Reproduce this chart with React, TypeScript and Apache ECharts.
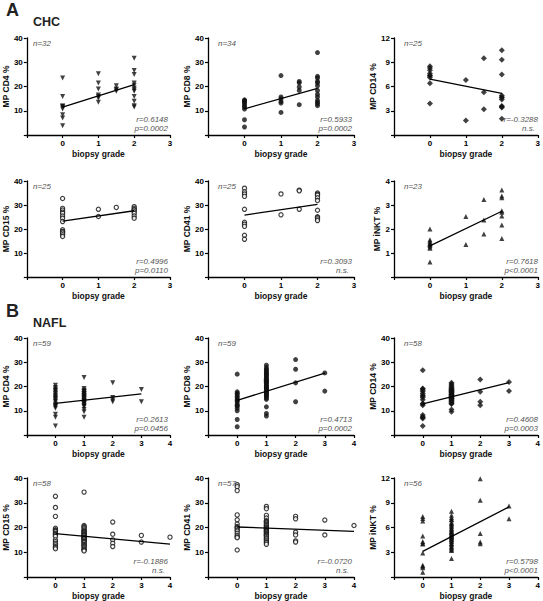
import React, { useEffect, useRef } from "react";
import * as echarts from "echarts";

// ---------- data (biopsy grade, value) ----------
const chcCD4: [number, number][] = [
  [0, 23.5], [0, 15.9], [0, 12.0], [0, 11.9], [0, 11.4], [0, 10.7], [0, 8.4], [0, 7.0], [0, 3.8],
  [1, 25.3], [1, 21.4], [1, 19.0], [1, 16.5], [1, 15.9], [1, 15.2], [1, 13.5],
  [1.5, 20.3], [1.5, 19.0], [1.5, 18.7], [1.5, 18.0],
  [2, 31.7], [2, 26.6], [2, 24.9], [2, 21.4], [2, 20.5], [2, 19.4], [2, 18.7], [2, 18.0], [2, 15.9], [2, 13.9], [2, 12.1], [2, 11.5],
];
const chcCD8: [number, number][] = [
  [0, 14.5], [0, 14.2], [0, 13.9], [0, 13.5], [0, 12.9], [0, 12.1], [0, 11.5], [0, 10.7], [0, 6.3], [0, 3.3],
  [1, 24.5], [1, 15.7], [1, 14.9], [1, 13.8], [1, 13.2], [1, 9.3],
  [1.5, 22.1], [1.5, 21.5], [1.5, 19.8], [1.5, 18.4], [1.5, 12.5],
  [2, 34.0], [2, 24.2], [2, 23.5], [2, 22.1], [2, 21.5], [2, 20.3], [2, 18.4], [2, 16.8], [2, 15.7], [2, 14.3], [2, 13.5], [2, 12.9], [2, 12.1],
];
const chcCD14: [number, number][] = [
  [0, 8.5], [0, 8.3], [0, 8.0], [0, 7.6], [0, 7.4], [0, 7.3], [0, 7.1], [0, 6.4], [0, 3.9],
  [1, 6.8], [1, 1.8],
  [1.5, 9.5], [1.5, 5.3], [1.5, 3.2],
  [2, 10.5], [2, 9.3], [2, 7.5], [2, 4.9], [2, 4.7], [2, 4.6], [2, 4.4], [2, 3.6], [2, 3.5], [2, 3.4], [2, 2.0],
];
const chcCD15: [number, number][] = [
  [0, 32.7], [0, 28.6], [0, 27.9], [0, 27.0], [0, 26.5], [0, 25.4], [0, 24.5], [0, 23.1], [0, 19.7], [0, 19.0], [0, 18.8], [0, 18.3], [0, 17.6], [0, 16.9],
  [1, 28.2], [1, 25.2],
  [1.5, 29.0],
  [2, 29.3], [2, 28.6], [2, 28.0], [2, 27.9], [2, 27.2], [2, 26.5], [2, 25.4], [2, 24.5],
];
const chcCD41: [number, number][] = [
  [0, 37.0], [0, 35.5], [0, 34.6], [0, 33.6], [0, 28.2], [0, 22.8], [0, 22.0], [0, 21.1], [0, 17.4], [0, 15.7],
  [1, 34.6], [1, 25.9],
  [1.5, 36.2], [1.5, 35.9], [1.5, 28.2],
  [2, 35.0], [2, 34.5], [2, 34.1], [2, 33.0], [2, 31.9], [2, 27.8], [2, 25.1], [2, 24.8], [2, 24.2], [2, 23.5],
];
const chcINKT: [number, number][] = [
  [0, 2.0], [0, 1.55], [0, 1.49], [0, 1.42], [0, 1.39], [0, 1.35], [0, 1.31], [0, 1.25], [0, 1.2], [0, 0.62],
  [1, 2.52], [1, 1.35],
  [1.5, 3.23], [1.5, 2.38], [1.5, 1.79],
  [2, 3.62], [2, 3.37], [2, 3.3], [2, 2.76], [2, 2.7], [2, 2.54], [2, 2.17], [2, 1.6],
];
const naflCD4: [number, number][] = [
  [0, 20.5], [0, 19.6], [0, 19.0], [0, 18.5], [0, 18.0], [0, 17.4], [0, 17.0], [0, 16.4], [0, 16.0], [0, 15.5], [0, 15.0], [0, 14.7], [0, 14.0], [0, 13.7], [0, 12.8], [0, 12.3], [0, 12.0], [0, 11.6], [0, 11.0], [0, 8.6], [0, 7.3], [0, 3.7],
  [1, 23.7], [1, 19.2], [1, 18.5], [1, 18.0], [1, 17.8], [1, 17.6], [1, 17.1], [1, 17.0], [1, 16.8], [1, 16.4], [1, 16.2], [1, 16.0], [1, 15.8], [1, 15.6], [1, 15.4], [1, 15.1], [1, 14.8], [1, 14.4], [1, 14.2], [1, 14.0], [1, 13.7], [1, 13.4], [1, 13.3], [1, 13.0], [1, 12.8], [1, 12.3], [1, 12.0], [1, 11.6], [1, 10.5], [1, 9.6], [1, 7.3],
  [2, 21.5], [2, 15.5], [2, 14.4], [2, 13.7],
  [3, 18.8], [3, 13.7],
];
const naflCD8: [number, number][] = [
  [0, 25.1], [0, 17.8], [0, 17.2], [0, 16.8], [0, 16.0], [0, 15.5], [0, 14.7], [0, 14.2], [0, 13.7], [0, 12.7], [0, 12.2], [0, 11.9], [0, 11.0], [0, 10.0], [0, 6.4], [0, 3.4],
  [1, 28.8], [1, 27.8], [1, 27.0], [1, 26.7], [1, 26.0], [1, 25.6], [1, 25.3], [1, 24.7], [1, 24.4], [1, 24.0], [1, 23.3], [1, 23.0], [1, 22.6], [1, 22.2], [1, 21.9], [1, 21.5], [1, 21.2], [1, 20.5], [1, 20.2], [1, 19.9], [1, 19.5], [1, 19.2], [1, 18.8], [1, 18.5], [1, 18.2], [1, 17.8], [1, 17.5], [1, 17.1], [1, 16.8], [1, 16.4], [1, 16.1], [1, 15.8], [1, 15.2], [1, 14.7], [1, 11.6], [1, 8.9], [1, 7.8],
  [2, 31.1], [2, 27.1], [2, 21.5], [2, 13.7],
  [3, 25.6], [3, 18.1],
];
const naflCD14: [number, number][] = [
  [0, 26.7], [0, 19.2], [0, 19.0], [0, 18.5], [0, 17.8], [0, 17.0], [0, 16.4], [0, 16.0], [0, 15.5], [0, 14.5], [0, 13.0], [0, 12.8], [0, 12.3], [0, 8.2], [0, 7.5], [0, 7.2], [0, 6.8], [0, 3.7],
  [1, 21.5], [1, 21.0], [1, 20.5], [1, 20.0], [1, 19.6], [1, 19.2], [1, 19.0], [1, 18.8], [1, 18.5], [1, 18.2], [1, 18.0], [1, 17.8], [1, 17.6], [1, 17.4], [1, 17.0], [1, 16.8], [1, 16.6], [1, 16.5], [1, 16.2], [1, 16.0], [1, 15.8], [1, 15.5], [1, 15.2], [1, 15.0], [1, 14.9], [1, 14.7], [1, 14.3], [1, 14.0], [1, 13.7], [1, 13.4], [1, 13.0], [1, 12.8], [1, 10.5], [1, 9.6],
  [2, 22.9], [2, 17.8], [2, 13.7], [2, 12.3],
  [3, 21.9], [3, 18.1],
];
const naflCD15: [number, number][] = [
  [0, 32.6], [0, 28.1], [0, 24.5], [0, 19.7], [0, 19.1], [0, 18.8], [0, 18.4], [0, 17.7], [0, 17.3], [0, 17.0], [0, 16.4], [0, 15.0], [0, 14.3], [0, 13.6], [0, 13.0], [0, 12.3], [0, 11.9], [0, 11.4],
  [1, 34.3], [1, 20.8], [1, 20.4], [1, 20.0], [1, 19.5], [1, 19.0], [1, 18.6], [1, 18.3], [1, 18.1], [1, 17.7], [1, 17.3], [1, 17.0], [1, 16.8], [1, 16.5], [1, 16.0], [1, 15.9], [1, 15.6], [1, 15.4], [1, 15.0], [1, 14.6], [1, 14.4], [1, 14.1], [1, 13.8], [1, 13.2], [1, 13.0], [1, 12.7], [1, 12.3], [1, 11.9], [1, 11.4], [1, 11.0], [1, 10.8], [1, 10.5],
  [2, 22.2], [2, 17.3], [2, 15.0], [2, 13.6], [2, 12.3],
  [3, 16.8], [3, 14.1],
  [4, 16.1],
];
const naflCD41: [number, number][] = [
  [0, 37.3], [0, 36.5], [0, 34.9], [0, 25.1], [0, 23.1], [0, 21.4], [0, 20.4], [0, 20.0], [0, 19.7], [0, 19.0], [0, 18.6], [0, 17.7], [0, 16.8], [0, 16.2], [0, 15.9], [0, 10.9],
  [1, 28.5], [1, 27.6], [1, 24.9], [1, 23.8], [1, 22.7], [1, 22.5], [1, 22.2], [1, 21.8], [1, 21.4], [1, 21.0], [1, 20.8], [1, 20.3], [1, 20.0], [1, 19.8], [1, 19.5], [1, 19.2], [1, 18.9], [1, 18.6], [1, 18.3], [1, 18.1], [1, 17.6], [1, 17.3], [1, 17.0], [1, 16.8], [1, 16.4], [1, 15.9], [1, 15.5], [1, 15.0], [1, 14.6], [1, 14.1], [1, 13.8], [1, 13.2],
  [2, 24.5], [2, 23.5], [2, 18.1], [2, 17.0], [2, 14.6], [2, 14.1],
  [3, 23.0], [3, 17.0],
  [4, 20.8],
];
const naflINKT: [number, number][] = [
  [0, 7.34], [0, 7.1], [0, 6.8], [0, 4.98], [0, 4.3], [0, 4.1], [0, 4.0], [0, 2.9], [0, 1.41], [0, 1.3], [0, 1.12], [0, 0.58],
  [1, 7.97], [1, 7.5], [1, 7.22], [1, 7.0], [1, 6.93], [1, 6.64], [1, 6.5], [1, 6.39], [1, 6.2], [1, 6.1], [1, 5.9], [1, 5.8], [1, 5.7], [1, 5.56], [1, 5.5], [1, 5.4], [1, 5.3], [1, 5.15], [1, 5.1], [1, 5.0], [1, 4.98], [1, 4.9], [1, 4.8], [1, 4.73], [1, 4.6], [1, 4.56], [1, 4.4], [1, 4.3], [1, 4.1], [1, 4.02], [1, 3.9], [1, 3.73], [1, 3.6], [1, 3.49], [1, 3.3], [1, 3.2], [1, 2.24],
  [2, 11.9], [2, 9.3], [2, 5.27], [2, 4.23], [2, 4.02],
  [3, 8.6], [3, 7.05],
];

// regression line end points
const chcCD4Fit: [number, number][] = [[0, 11.5], [2, 20.8]];
const chcCD8Fit: [number, number][] = [[0, 10.8], [2, 19.2]];
const chcCD14Fit: [number, number][] = [[0, 6.9], [2, 5.15]];
const chcCD15Fit: [number, number][] = [[0, 23.3], [2, 27.6]];
const chcCD41Fit: [number, number][] = [[0, 25.8], [2, 30.3]];
const chcINKTFit: [number, number][] = [[0, 1.3], [2, 2.74]];
const naflCD4Fit: [number, number][] = [[0, 13.0], [3, 17.0]];
const naflCD8Fit: [number, number][] = [[0, 14.3], [3, 25.5]];
const naflCD14Fit: [number, number][] = [[0, 12.8], [3, 21.6]];
const naflCD15Fit: [number, number][] = [[0, 17.5], [4, 13.3]];
const naflCD41Fit: [number, number][] = [[0, 20.2], [4, 18.4]];
const naflINKTFit: [number, number][] = [[0, 3.1], [3, 8.5]];

const yTitles = ["MP CD4 %", "MP CD8 %", "MP CD14 %", "MP CD15 %", "MP CD41 %", "MP iNKT %"];
const chcN = ["n=32", "n=34", "n=25", "n=25", "n=25", "n=23"];
const naflN = ["n=59", "n=59", "n=58", "n=58", "n=57", "n=56"];
const chcR = ["r=0.6148", "r=0.5933", "r=-0.3288", "r=0.4996", "r=0.3093", "r=0.7618"];
const chcP = ["p=0.0002", "p=0.0002", "n.s.", "p=0.0110", "n.s.", "p<0.0001"];
const naflR = ["r=0.2613", "r=0.4713", "r=0.4608", "r=-0.1886", "r=-0.0720", "r=0.5798"];
const naflP = ["p=0.0456", "p=0.0002", "p=0.0003", "n.s.", "n.s.", "p<0.0001"];

const chcData = [chcCD4, chcCD8, chcCD14, chcCD15, chcCD41, chcINKT];
const naflData = [naflCD4, naflCD8, naflCD14, naflCD15, naflCD41, naflINKT];
const chcFits = [chcCD4Fit, chcCD8Fit, chcCD14Fit, chcCD15Fit, chcCD41Fit, chcINKTFit];
const naflFits = [naflCD4Fit, naflCD8Fit, naflCD14Fit, naflCD15Fit, naflCD41Fit, naflINKTFit];

// ---------- layout / styles ----------
const colLeft = [23, 208, 394];
const colWidth = [147, 146, 146];
const rowTop = [38, 181, 338, 478];
const rowHeight = [97, 96, 97, 99];
const FONT = "Liberation Sans";

const markers = [
  { symbol: "triangle", rotate: 180, size: 5, empty: false },
  { symbol: "circle", rotate: 0, size: 5, empty: false },
  { symbol: "diamond", rotate: 0, size: 6, empty: false },
  { symbol: "circle", rotate: 0, size: 4.2, empty: true },
  { symbol: "circle", rotate: 0, size: 4.2, empty: true },
  { symbol: "triangle", rotate: 0, size: 5, empty: false },
];

export default function App() {
  const ref = useRef<HTMLDivElement>(null);
  useEffect(() => {
    if (!ref.current) return;
    const chart = echarts.init(ref.current, null, { renderer: "svg" });
    const grids: any[] = [];
    const xAxes: any[] = [];
    const yAxes: any[] = [];
    const series: any[] = [];
    const graphics: any[] = [];

    for (let g = 0; g < 2; g++) {
      const data = g === 0 ? chcData : naflData;
      const fits = g === 0 ? chcFits : naflFits;
      const ns = g === 0 ? chcN : naflN;
      const rs = g === 0 ? chcR : naflR;
      const ps = g === 0 ? chcP : naflP;
      const xMax = g === 0 ? 3 : 4;
      for (let k = 0; k < 6; k++) {
        const row = g * 2 + Math.floor(k / 3);
        const col = k % 3;
        const idx = g * 6 + k;
        const left = colLeft[col];
        const top = rowTop[row];
        const w = colWidth[col];
        const h = rowHeight[row];
        const isSmall = (k === 2 && g === 0) || k === 5;
        const yMax = isSmall ? (g === 0 && k === 5 ? 4 : 12) : 40;
        const yInt = isSmall ? (g === 0 && k === 5 ? 1 : 3) : 10;
        grids.push({ left, top, width: w, height: h, containLabel: false });
        xAxes.push({
          type: "value", gridIndex: idx, min: -1, max: xMax, interval: 1,
          name: "biopsy grade", nameLocation: "middle", nameGap: 14,
          nameTextStyle: { fontSize: 8.5, fontFamily: FONT, color: "#111", fontWeight: "bold" },
          axisLine: { onZero: false, lineStyle: { color: "#000", width: 1.3 } },
          axisTick: { length: 3, lineStyle: { color: "#000", width: 1.2 } },
          axisLabel: {
            fontSize: 8, fontFamily: FONT, color: "#000", fontWeight: "bold", margin: 4,
            formatter: (v: number) => (v < 0 ? "" : String(v)),
          },
          splitLine: { show: false },
        });
        yAxes.push({
          type: "value", gridIndex: idx, min: 0, max: yMax, interval: yInt,
          name: yTitles[k], nameLocation: "middle", nameGap: 12, nameRotate: 90,
          nameTextStyle: { fontSize: 8.5, fontFamily: FONT, color: "#111", fontWeight: "bold" },
          axisLine: { onZero: false, lineStyle: { color: "#000", width: 1.3 } },
          axisTick: { length: 3, lineStyle: { color: "#000", width: 1.2 } },
          axisLabel: {
            fontSize: 8, fontFamily: FONT, color: "#000", fontWeight: "bold", margin: 4,
            formatter: (v: number) => (v === 0 ? "" : String(v)),
          },
          splitLine: { show: false },
        });
        const m = markers[k];
        series.push({
          type: "scatter", xAxisIndex: idx, yAxisIndex: idx, data: data[k],
          symbol: m.symbol, symbolSize: m.size, symbolRotate: m.rotate,
          itemStyle: m.empty
            ? { color: "#fff", borderColor: "#111", borderWidth: 1.2 }
            : { color: "#111" },
          z: 3,
        });
        series.push({
          type: "line", xAxisIndex: idx, yAxisIndex: idx, data: fits[k],
          symbol: "none", lineStyle: { color: "#000", width: 1.3 }, z: 4,
        });
        const textStyle = { fontSize: 8, fontFamily: FONT, fontStyle: "italic", fill: "#555" };
        graphics.push({
          type: "text", x: left + 10, y: top + 5,
          style: { ...textStyle, text: ns[k], verticalAlign: "middle" },
        });
        graphics.push({
          type: "text", x: left + w - 2, y: top + h - 16,
          style: { ...textStyle, text: rs[k], align: "right", verticalAlign: "middle" },
        });
        graphics.push({
          type: "text", x: left + w - (ps[k] === "n.s." ? 5 : 2), y: top + h - 7,
          style: { ...textStyle, text: ps[k], align: "right", verticalAlign: "middle" },
        });
      }
    }

    graphics.push({ type: "text", x: 6, y: 1, style: { text: "A", fontSize: 18, fontWeight: "bold", fontFamily: FONT, fill: "#222", verticalAlign: "top" } });
    graphics.push({ type: "text", x: 33, y: 15, style: { text: "CHC", fontSize: 12.5, fontWeight: "bold", fontFamily: FONT, fill: "#222", verticalAlign: "top" } });
    graphics.push({ type: "text", x: 6, y: 302, style: { text: "B", fontSize: 18, fontWeight: "bold", fontFamily: FONT, fill: "#222", verticalAlign: "top" } });
    graphics.push({ type: "text", x: 33, y: 316, style: { text: "NAFL", fontSize: 12.5, fontWeight: "bold", fontFamily: FONT, fill: "#222", verticalAlign: "top" } });

    chart.setOption({
      animation: false,
      backgroundColor: "#fff",
      grid: grids,
      xAxis: xAxes,
      yAxis: yAxes,
      series,
      graphic: graphics,
    });
    return () => chart.dispose();
  }, []);
  return <div ref={ref} style={{ width: 543, height: 601, position: "absolute", left: 0, top: 0 }} />;
}
